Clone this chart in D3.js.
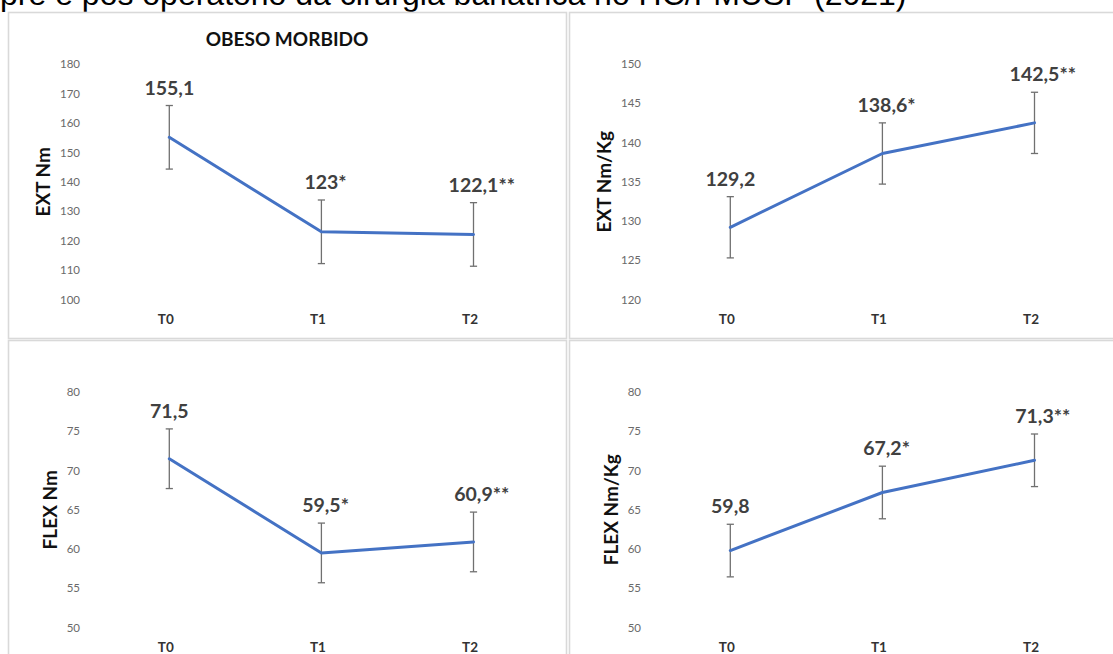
<!DOCTYPE html>
<html>
<head>
<meta charset="utf-8">
<script src="https://cdn.jsdelivr.net/npm/d3@7"></script>
<style>
  html, body { margin: 0; padding: 0; background: #fff; }
  svg { display: block; }
</style>
</head>
<body>
<script>
// Time points and significance markers
const categories = ["T0", "T1", "T2"];
const significance = ["", "*", "**"];

// Extensor torque (Nm) and its error bar half-width
const extNm = [155.1, 123, 122.1];
const extNmErr = [10.8, 10.8, 10.8];
const extNmTicks = [100, 110, 120, 130, 140, 150, 160, 170, 180];

// Extensor torque normalised by body weight
const extNmKg = [129.2, 138.6, 142.5];
const extNmKgErr = [3.9, 3.9, 3.9];
const extNmKgTicks = [120, 125, 130, 135, 140, 145, 150];

// Flexor torque (Nm)
const flexNm = [71.5, 59.5, 60.9];
const flexNmErr = [3.8, 3.8, 3.8];
const flexNmTicks = [50, 55, 60, 65, 70, 75, 80];

// Flexor torque normalised by body weight
const flexNmKg = [59.8, 67.2, 71.3];
const flexNmKgErr = [3.35, 3.35, 3.35];
const flexNmKgTicks = [50, 55, 60, 65, 70, 75, 80];

const captionText = "pré e pós operatório da cirurgia bariátrica no HC/FMUSP (2021)";
const chartTitle = "OBESO MORBIDO";

const W = 1113, H = 654;
const PANEL_W = 558, PANEL_H = 326;
const FONT = "Lato, 'Open Sans', sans-serif";

const panels = [
  { x: 8,   y: 12,  values: extNm,    err: extNmErr,    ticks: extNmTicks,    axisTitle: "EXT Nm",     title: chartTitle },
  { x: 569, y: 12,  values: extNmKg,  err: extNmKgErr,  ticks: extNmKgTicks,  axisTitle: "EXT Nm/Kg",  title: null },
  { x: 8,   y: 340, values: flexNm,   err: flexNmErr,   ticks: flexNmTicks,   axisTitle: "FLEX Nm",    title: null },
  { x: 569, y: 340, values: flexNmKg, err: flexNmKgErr, ticks: flexNmKgTicks, axisTitle: "FLEX Nm/Kg", title: null }
];

const svg = d3.select("body").append("svg")
  .attr("width", W).attr("height", H)
  .attr("viewBox", `0 0 ${W} ${H}`);

svg.append("rect").attr("width", W).attr("height", H).attr("fill", "#fff");

// Caption line above the charts
svg.append("text")
  .attr("x", 0).attr("y", 5)
  .attr("font-family", "'Liberation Sans', Arial, sans-serif")
  .attr("font-size", 32)
  .attr("fill", "#000")
  .text(captionText);

const fmt = v => String(v).replace(".", ",");

panels.forEach(p => {
  const g = svg.append("g").attr("transform", `translate(${p.x},${p.y})`);

  g.append("rect")
    .attr("x", 0.5).attr("y", 0.5)
    .attr("width", PANEL_W).attr("height", PANEL_H)
    .attr("fill", "#fff")
    .attr("stroke", "#d9d9d9")
    .attr("stroke-width", 1.6);

  const y = d3.scaleLinear()
    .domain(d3.extent(p.ticks))
    .range([287.5, 52]);

  const x = d3.scalePoint()
    .domain(categories)
    .range([161.3, 465.5]);

  // value axis: labels only
  const yAxis = g.append("g")
    .attr("transform", "translate(76,0)")
    .call(d3.axisLeft(y).tickValues(p.ticks).tickSize(0).tickPadding(4).tickFormat(d3.format("d")));
  yAxis.select(".domain").remove();
  yAxis.attr("font-family", FONT).attr("font-size", 11.5);
  yAxis.selectAll("text").attr("fill", "#6a6a6a");

  // category axis: labels only
  const xAxis = g.append("g")
    .attr("transform", "translate(0,312)")
    .call(d3.axisBottom(x).tickSize(0).tickPadding(0));
  xAxis.select(".domain").remove();
  xAxis.attr("font-family", FONT).attr("font-size", 13.5).attr("font-weight", "bold");
  xAxis.selectAll("text").attr("y", 0).attr("dy", 0).attr("dx", -4).attr("fill", "#333");

  // axis title placed next to the widest tick label
  const tickLeft = d3.min(yAxis.selectAll("text").nodes(), n => {
    const b = n.getBBox();
    return 76 + b.x;
  });
  g.append("text")
    .attr("transform", `translate(${tickLeft - 10},${(287.5 + 52) / 2}) rotate(-90)`)
    .attr("text-anchor", "middle")
    .attr("font-family", FONT)
    .attr("font-size", 19)
    .attr("font-weight", "bold")
    .attr("fill", "#111")
    .text(p.axisTitle);

  if (p.title) {
    g.append("text")
      .attr("x", PANEL_W / 2).attr("y", 34)
      .attr("text-anchor", "middle")
      .attr("font-family", FONT)
      .attr("font-size", 19)
      .attr("font-weight", "bold")
      .attr("fill", "#111")
      .text(p.title);
  }

  // error bars
  const eb = g.append("g").attr("stroke", "#707070").attr("stroke-width", 1.3).attr("fill", "none");
  p.values.forEach((v, i) => {
    const cx = x(categories[i]);
    const y0 = y(v - p.err[i]), y1 = y(v + p.err[i]);
    eb.append("line").attr("x1", cx).attr("x2", cx).attr("y1", y0).attr("y2", y1);
    eb.append("line").attr("x1", cx - 3.6).attr("x2", cx + 3.6).attr("y1", y0).attr("y2", y0);
    eb.append("line").attr("x1", cx - 3.6).attr("x2", cx + 3.6).attr("y1", y1).attr("y2", y1);
  });

  // series line
  const line = d3.line()
    .x((d, i) => x(categories[i]))
    .y(d => y(d));
  g.append("path")
    .datum(p.values)
    .attr("d", line)
    .attr("fill", "none")
    .attr("stroke", "#4472C4")
    .attr("stroke-width", 3)
    .attr("stroke-linejoin", "round")
    .attr("stroke-linecap", "round");

  // value labels: number centred on the point, markers trailing
  p.values.forEach((v, i) => {
    const cx = x(categories[i]);
    const t = g.append("text")
      .attr("y", y(v + p.err[i]) - 11)
      .attr("font-family", FONT)
      .attr("font-size", 19.5)
      .attr("font-weight", "bold")
      .attr("fill", "#404040");
    const num = t.append("tspan").text(fmt(v));
    if (significance[i]) t.append("tspan").text(significance[i]);
    const w = num.node().getComputedTextLength();
    t.attr("x", cx - w / 2);
  });
});
</script>
</body>
</html>
